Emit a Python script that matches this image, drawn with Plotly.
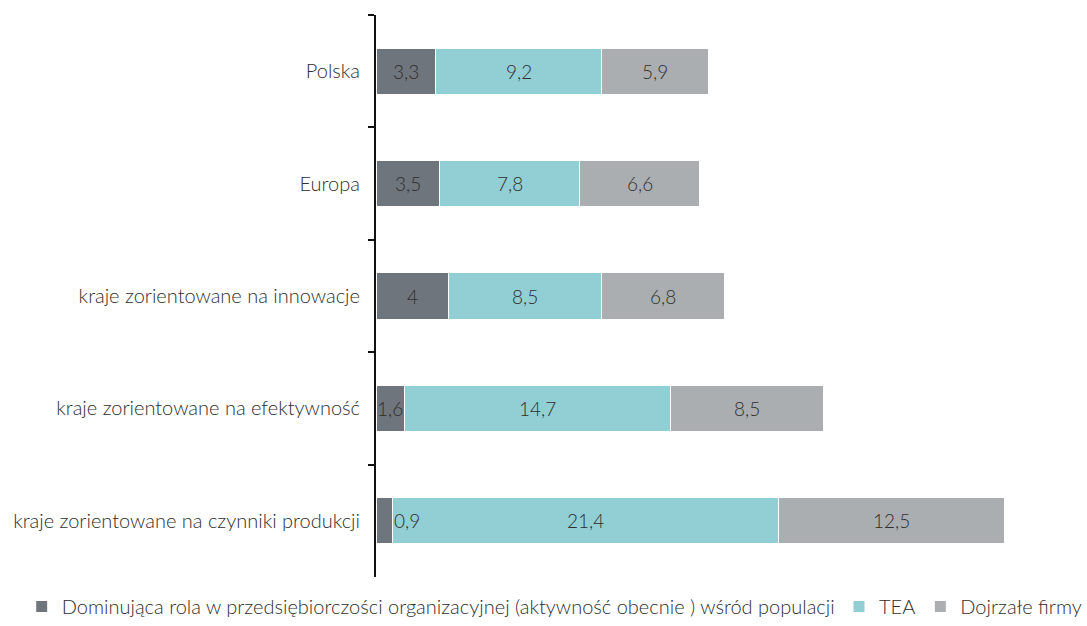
import plotly.graph_objects as go

categories = [
    "Polska",
    "Europa",
    "kraje zorientowane na innowacje",
    "kraje zorientowane na efektywność",
    "kraje zorientowane na czynniki produkcji",
]
dominujaca = [3.3, 3.5, 4.0, 1.6, 0.9]
tea = [9.2, 7.8, 8.5, 14.7, 21.4]
dojrzale = [5.9, 6.6, 6.8, 8.5, 12.5]
labels_dom = ["3,3", "3,5", "4", "1,6", "0,9"]
labels_tea = ["9,2", "7,8", "8,5", "14,7", "21,4"]
labels_doj = ["5,9", "6,6", "6,8", "8,5", "12,5"]

series_names = [
    "Dominująca rola w przedsiębiorczości organizacyjnej (aktywność obecnie ) wśród populacji",
    "TEA",
    "Dojrzałe firmy",
]
colors = ["#6e757c", "#92cfd5", "#abaeb1"]
legend_ids = ["legend", "legend2", "legend2"]
FONT = "Lato"
TXT = "#2e2e2e"

fig = go.Figure()
for name, vals, col, lg in zip(series_names, [dominujaca, tea, dojrzale], colors, legend_ids):
    fig.add_trace(go.Bar(
        y=categories, x=vals, name=name, orientation="h",
        marker=dict(color=col, line=dict(color="white", width=1)),
        width=0.41, hoverinfo="x+name", legend=lg,
    ))

# value labels at segment centres (tiny segment labels sit just past the bar)
annotations = []
for i, cat in enumerate(categories):
    d, t, j = dominujaca[i], tea[i], dojrzale[i]
    if d < 1.0:
        annotations.append(dict(x=d, y=cat, text=labels_dom[i], xanchor="left",
                                showarrow=False, xshift=0))
    else:
        annotations.append(dict(x=d / 2, y=cat, text=labels_dom[i], showarrow=False))
    annotations.append(dict(x=d + t / 2, y=cat, text=labels_tea[i], showarrow=False))
    annotations.append(dict(x=d + t + j / 2, y=cat, text=labels_doj[i], showarrow=False))
for a in annotations:
    a["font"] = dict(family=FONT, size=19, color=TXT, weight=300)

legend_font = dict(family=FONT, size=20, color=TXT, weight=300)
legend_common = dict(
    orientation="h", xref="container", yref="container",
    y=0.0, yanchor="bottom", font=legend_font,
    itemwidth=30, traceorder="normal", tracegroupgap=0,
)

fig.update_layout(
    width=1087, height=626,
    barmode="stack",
    paper_bgcolor="white", plot_bgcolor="white",
    margin=dict(l=376, r=7, t=15, b=49, autoexpand=False),
    font=dict(family=FONT, size=19, color=TXT, weight=300),
    annotations=annotations,
    showlegend=True,
    legend=dict(x=0.02, xanchor="left", **legend_common),
    legend2=dict(x=1.0, xanchor="right", **legend_common),
    xaxis=dict(range=[0, 39], visible=False, showgrid=False, zeroline=False),
    yaxis=dict(
        categoryorder="array", categoryarray=categories, autorange="reversed",
        showline=True, linecolor="#111111", linewidth=2,
        ticks="outside", tickson="boundaries", ticklen=6, tickwidth=2,
        tickcolor="#111111", showgrid=False, zeroline=False,
        ticklabelstandoff=10,
        tickfont=dict(family=FONT, size=20, color=TXT, weight=300),
    ),
)

fig.write_html("out.html")
